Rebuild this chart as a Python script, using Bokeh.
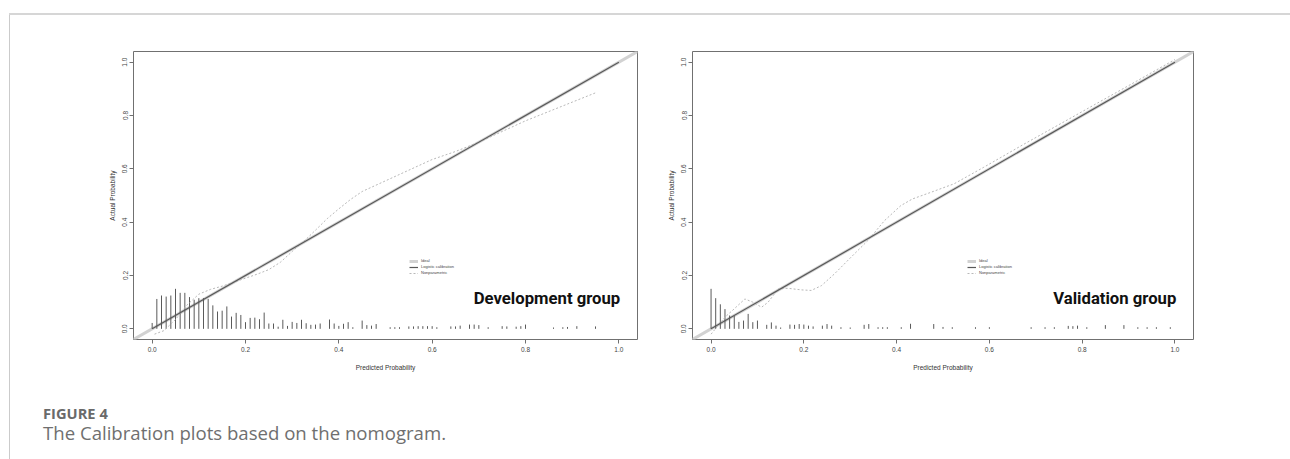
from bokeh.plotting import figure
from bokeh.models import Range1d, FixedTicker, Label, Legend, LegendItem, Div, Spacer
from bokeh.layouts import row, column
from bokeh.embed import file_html
from bokeh.resources import INLINE

# ---------------- data ----------------
tick_values = [0.0, 0.2, 0.4, 0.6, 0.8, 1.0]
tick_labels = ["0.0", "0.2", "0.4", "0.6", "0.8", "1.0"]
x_title = "Predicted Probability"
y_title = "Actual Probability"
legend_labels = ["Ideal", "Logistic calibration", "Nonparametric"]
group_names = ["Development group", "Validation group"]
caption_head = "FIGURE 4"
caption_text = "The Calibration plots based on the nomogram."

axis_lo = -0.04
axis_hi = 1.04

logistic_x = [0.0, 1.0]
logistic_y = [0.0, 1.0]

dev_np_x = [0.005, 0.025, 0.05, 0.075, 0.10, 0.125, 0.15, 0.175, 0.20, 0.225, 0.25, 0.275,
            0.30, 0.325, 0.35, 0.375, 0.40, 0.425, 0.45, 0.50, 0.55, 0.60, 0.65, 0.70,
            0.75, 0.80, 0.85, 0.90, 0.95]
dev_np_y = [-0.02, -0.007, 0.035, 0.09, 0.13, 0.148, 0.16, 0.175, 0.19, 0.205, 0.222, 0.25,
            0.29, 0.328, 0.37, 0.413, 0.45, 0.485, 0.515, 0.555, 0.595, 0.635, 0.665, 0.70,
            0.74, 0.78, 0.815, 0.85, 0.885]

val_np_x = [0.0, 0.03, 0.05, 0.073, 0.09, 0.109, 0.123, 0.145, 0.166, 0.195, 0.216, 0.238,
            0.266, 0.302, 0.338, 0.374, 0.409, 0.434, 0.474, 0.524, 0.588, 0.674, 0.78,
            0.9, 1.0]
val_np_y = [-0.02, 0.044, 0.075, 0.112, 0.10, 0.081, 0.10, 0.15, 0.152, 0.146, 0.144, 0.162,
            0.206, 0.269, 0.331, 0.406, 0.462, 0.487, 0.512, 0.544, 0.606, 0.692, 0.795,
            0.912, 1.01]

dev_bar_x = [0.00, 0.01, 0.02, 0.03, 0.04, 0.05, 0.06, 0.07, 0.08, 0.09, 0.10, 0.11, 0.12,
             0.13, 0.14, 0.15, 0.16, 0.17, 0.18, 0.19, 0.20, 0.21, 0.22, 0.23, 0.24, 0.25,
             0.26, 0.27, 0.28, 0.29, 0.30, 0.31, 0.32, 0.33, 0.34, 0.35, 0.36, 0.38, 0.39,
             0.40, 0.41, 0.42, 0.43, 0.45, 0.46, 0.47, 0.48, 0.51, 0.52, 0.53, 0.55, 0.56,
             0.57, 0.58, 0.59, 0.60, 0.61, 0.64, 0.65, 0.66, 0.68, 0.69, 0.70, 0.72, 0.75,
             0.76, 0.78, 0.79, 0.80, 0.86, 0.88, 0.89, 0.91, 0.95]
dev_bar_h = [0.022, 0.112, 0.125, 0.121, 0.125, 0.150, 0.135, 0.135, 0.119, 0.109, 0.115,
             0.115, 0.112, 0.088, 0.065, 0.068, 0.084, 0.046, 0.060, 0.052, 0.025, 0.041,
             0.042, 0.036, 0.061, 0.020, 0.020, 0.008, 0.034, 0.011, 0.026, 0.022, 0.034,
             0.021, 0.015, 0.016, 0.020, 0.035, 0.020, 0.011, 0.019, 0.025, 0.006, 0.031,
             0.014, 0.012, 0.018, 0.006, 0.006, 0.006, 0.009, 0.009, 0.010, 0.010, 0.010,
             0.010, 0.006, 0.009, 0.009, 0.012, 0.016, 0.016, 0.014, 0.006, 0.010, 0.009,
             0.008, 0.010, 0.016, 0.005, 0.006, 0.007, 0.010, 0.009]

val_bar_x = [0.00, 0.01, 0.02, 0.03, 0.04, 0.05, 0.06, 0.07, 0.08, 0.09, 0.10, 0.12, 0.13,
             0.14, 0.15, 0.17, 0.18, 0.19, 0.20, 0.21, 0.22, 0.24, 0.25, 0.26, 0.28, 0.30,
             0.33, 0.34, 0.36, 0.37, 0.38, 0.41, 0.43, 0.48, 0.50, 0.52, 0.57, 0.60, 0.69,
             0.72, 0.74, 0.77, 0.78, 0.79, 0.81, 0.85, 0.89, 0.92, 0.94, 0.96, 0.99]
val_bar_h = [0.150, 0.115, 0.092, 0.074, 0.050, 0.048, 0.026, 0.031, 0.056, 0.025, 0.031,
             0.015, 0.024, 0.012, 0.005, 0.016, 0.015, 0.018, 0.016, 0.012, 0.009, 0.012,
             0.018, 0.012, 0.006, 0.005, 0.015, 0.018, 0.006, 0.006, 0.006, 0.006, 0.019,
             0.018, 0.007, 0.006, 0.006, 0.006, 0.006, 0.006, 0.006, 0.011, 0.010, 0.012,
             0.006, 0.014, 0.014, 0.006, 0.006, 0.006, 0.006]

TICK_FONT = "Liberation Sans"
FRAME_COLOR = "#707070"
PANEL_H = 367


def panel(width, b_left, b_right, bar_x, bar_h, np_x, np_y, name, legend_px):
    p = figure(width=width, height=PANEL_H, x_range=Range1d(axis_lo, axis_hi),
               y_range=Range1d(axis_lo, axis_hi), output_backend="svg",
               toolbar_location=None, min_border_left=b_left, min_border_right=b_right,
               min_border_top=36, min_border_bottom=43)
    p.grid.visible = False
    p.outline_line_color = FRAME_COLOR
    p.outline_line_width = 1
    p.background_fill_color = "white"
    p.border_fill_color = "white"
    for ax in (p.xaxis[0], p.yaxis[0]):
        ax.ticker = FixedTicker(ticks=tick_values)
        ax.major_label_overrides = {v: s for v, s in zip(tick_values, tick_labels)}
        ax.axis_line_color = None
        ax.major_tick_line_color = FRAME_COLOR
        ax.major_tick_out = 4
        ax.major_tick_in = 0
        ax.minor_tick_line_color = None
        ax.major_label_text_font = TICK_FONT
        ax.major_label_text_font_size = "6.5px"
        ax.major_label_text_color = "#444444"
        ax.axis_label_text_font = TICK_FONT
        ax.axis_label_text_font_size = "6.5px"
        ax.axis_label_text_font_style = "normal"
        ax.axis_label_text_color = "#333333"
    p.xaxis.axis_label = x_title
    p.yaxis.axis_label = y_title
    p.xaxis.major_label_standoff = 3
    p.xaxis.axis_label_standoff = 9
    p.yaxis.major_label_standoff = 2
    p.yaxis.axis_label_standoff = 4
    p.yaxis.major_label_orientation = "vertical"

    r_ideal = p.line([axis_lo, axis_hi], [axis_lo, axis_hi], line_color="#d2d2d2", line_width=3)
    p.segment(x0=bar_x, y0=[0] * len(bar_x), x1=bar_x, y1=bar_h, line_color="#5a5a5a", line_width=1)
    r_np = p.line(np_x, np_y, line_color="#b8b8b8", line_width=1, line_dash="2 2")
    r_log = p.line(logistic_x, logistic_y, line_color="#585858", line_width=1.2)

    legend = Legend(items=[LegendItem(label=legend_labels[0], renderers=[r_ideal]),
                           LegendItem(label=legend_labels[1], renderers=[r_log]),
                           LegendItem(label=legend_labels[2], renderers=[r_np])],
                    location=legend_px, border_line_color=None, background_fill_alpha=0,
                    label_text_font=TICK_FONT, label_text_font_size="4px",
                    label_text_color="#444444", glyph_width=9, glyph_height=4,
                    label_height=4, spacing=1, padding=0, margin=0, label_standoff=3)
    p.add_layout(legend)

    p.add_layout(Label(x=1.003, y=0.112, text=name, text_align="right", text_baseline="middle",
                       text_font="Roboto", text_font_style="bold", text_font_size="16.7px",
                       text_color="#111111"))
    return p


# page x: left panel canvas 10..664, right panel canvas 664..1290
left = panel(654, 123, 27, dev_bar_x, dev_bar_h, dev_np_x, dev_np_y, group_names[0], (276, 64))
right = panel(626, 27, 97, val_bar_x, val_bar_h, val_np_x, val_np_y, group_names[1], (275, 64))

cap = figure(width=1280, height=77, x_range=Range1d(10, 1290), y_range=Range1d(459, 382),
             output_backend="svg", toolbar_location=None, x_axis_type=None, y_axis_type=None,
             min_border=0, min_border_left=0, min_border_right=0, min_border_top=0,
             min_border_bottom=0)
cap.grid.visible = False
cap.outline_line_color = None
cap.add_layout(Label(x=42.5, y=412, text=caption_head, text_align="left", text_baseline="middle",
                     text_font="Open Sans", text_font_style="bold", text_font_size="14.7px",
                     text_color="#6a6a6a"))
cap.add_layout(Label(x=42.5, y=432, text=caption_text, text_align="left", text_baseline="middle",
                     text_font="Open Sans", text_font_size="18.6px", text_color="#6f6f6f"))

LINE_C = "#cbcbcb"
top_line = Div(text="", width=1281, height=2, margin=0, styles={"background-color": "#d6d6d6"})
side_line = Div(text="", width=1, height=444, margin=0, styles={"background-color": LINE_C})

content = column(row(left, right), cap)
layout = row(Spacer(width=9, height=459, margin=0),
             column(Spacer(width=1281, height=13, margin=0), top_line, row(side_line, content)))
open("out.html", "w").write(file_html(layout, INLINE))
